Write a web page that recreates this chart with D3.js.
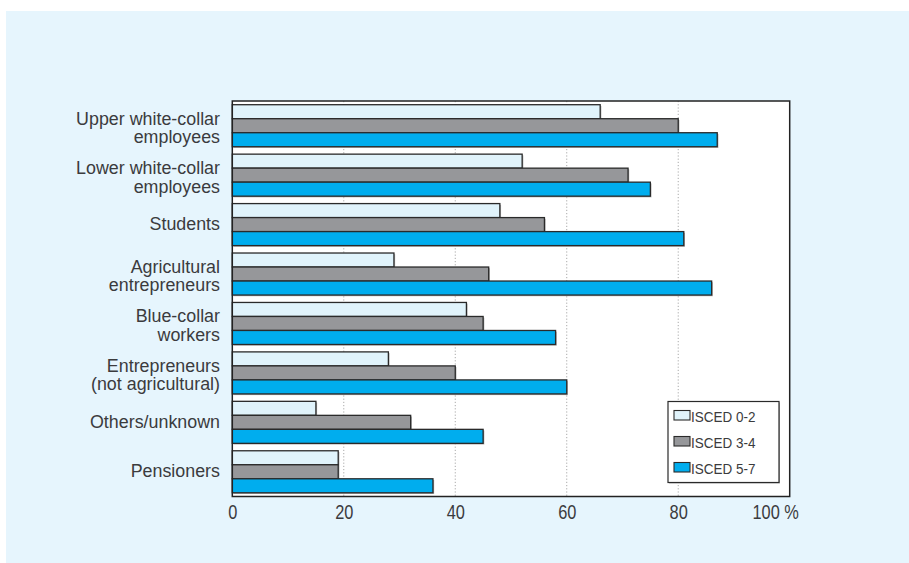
<!DOCTYPE html>
<html>
<head>
<meta charset="utf-8">
<script src="https://cdn.jsdelivr.net/npm/d3@7"></script>
<style>
  html, body { margin: 0; padding: 0; background: #ffffff; }
  svg { display: block; }
  .lbl { font-family: "Liberation Sans", Arial, sans-serif; fill: #3b3b3d; }
</style>
</head>
<body>
<svg id="chart" width="909" height="563"></svg>
<script>
// Share by occupational group and education level (%)
const categories = [
  ["Upper white-collar", "employees"],
  ["Lower white-collar", "employees"],
  ["Students"],
  ["Agricultural", "entrepreneurs"],
  ["Blue-collar", "workers"],
  ["Entrepreneurs", "(not agricultural)"],
  ["Others/unknown"],
  ["Pensioners"]
];
const seriesNames = ["ISCED 0-2", "ISCED 3-4", "ISCED 5-7"];
const isced02 = [66, 52, 48, 29, 42, 28, 15, 19];
const isced34 = [80, 71, 56, 46, 45, 40, 32, 19];
const isced57 = [87, 75, 81, 86, 58, 60, 45, 36];
const xTicks = [0, 20, 40, 60, 80, 100];
const xTickLabels = ["0", "20", "40", "60", "80", "100 %"];
const seriesColors = ["#e0f3fb", "#96979a", "#00adee"];

const values = [isced02, isced34, isced57];
const rows = categories.map((c, i) => ({
  key: c.join(" "),
  lines: c,
  vals: values.map((s, k) => ({ series: k, value: s[i] }))
}));

const svg = d3.select("#chart");

// light blue panel
svg.append("rect").attr("x", 6).attr("y", 11).attr("width", 903).attr("height", 552).attr("fill", "#e6f5fd");

const plot = { left: 232.3, right: 789.7, top: 101, bottom: 496.5 };

const x = d3.scaleLinear().domain([0, 100]).range([plot.left, plot.right]);
const y = d3.scaleBand().domain(rows.map(r => r.key)).range([plot.top, plot.bottom])
  .paddingInner(0.15).paddingOuter(0.075);
const ySub = d3.scaleBand().domain(d3.range(seriesNames.length)).range([0, y.bandwidth()]);

// plot background
svg.append("rect").attr("x", plot.left).attr("y", plot.top)
  .attr("width", plot.right - plot.left).attr("height", plot.bottom - plot.top)
  .attr("fill", "#ffffff");

// dotted gridlines
svg.append("g").selectAll("line").data(xTicks.filter(t => t > 0 && t < 100)).join("line")
  .attr("x1", d => x(d)).attr("x2", d => x(d))
  .attr("y1", plot.top).attr("y2", plot.bottom)
  .attr("stroke", "#a9a9a9").attr("stroke-width", 1).attr("stroke-dasharray", "1.2,2");

// bars with a soft drop shadow
const groups = svg.append("g").selectAll("g").data(rows).join("g")
  .attr("transform", d => `translate(0,${y(d.key)})`);

groups.selectAll("rect.shadow").data(d => d.vals).join("rect")
  .attr("class", "shadow")
  .attr("x", x(0) + 1.2).attr("y", d => ySub(d.series) + 1.2)
  .attr("width", d => x(d.value) - x(0)).attr("height", ySub.bandwidth())
  .attr("fill", "#b4b4b4");

groups.selectAll("rect.bar").data(d => d.vals).join("rect")
  .attr("class", "bar")
  .attr("x", x(0)).attr("y", d => ySub(d.series))
  .attr("width", d => x(d.value) - x(0)).attr("height", ySub.bandwidth())
  .attr("fill", d => seriesColors[d.series])
  .attr("stroke", "#2a2a2a").attr("stroke-width", 1.3);

// plot frame
svg.append("rect").attr("x", plot.left).attr("y", plot.top)
  .attr("width", plot.right - plot.left).attr("height", plot.bottom - plot.top)
  .attr("fill", "none").attr("stroke", "#222222").attr("stroke-width", 1.5);

// x axis labels (condensed lettering)
const tickSx = 0.78;
const xAxis = d3.axisBottom(x).tickValues(xTicks).tickSize(0).tickPadding(0)
  .tickFormat((d, i) => xTickLabels[i]);
const gx = svg.append("g").attr("transform", `translate(0,${plot.bottom})`).call(xAxis);
gx.select(".domain").remove();
gx.selectAll("text").attr("class", "lbl").attr("font-size", 21).attr("dy", null)
  .attr("y", 22.5).attr("fill", "#3b3b3d").style("font-family", null)
  .attr("transform", `scale(${tickSx},1)`);
gx.selectAll(".tick").filter(d => d === 100).select("text")
  .attr("text-anchor", "start").attr("x", -37.7 / tickSx);

// category labels
const lineH = 18.4;
const catSx = 0.966;
const labels = svg.append("g").selectAll("text").data(rows).join("text")
  .attr("class", "lbl").attr("font-size", 18.5).attr("text-anchor", "end")
  .attr("transform", d => {
    const cy = y(d.key) + y.bandwidth() / 2;
    const base = d.lines.length === 1 ? cy + 5.5 : cy - 1;
    return `translate(220,${base}) scale(${catSx},1)`;
  });
labels.selectAll("tspan").data(d => d.lines).join("tspan")
  .attr("x", 0).attr("dy", (d, i) => i === 0 ? 0 : lineH).text(d => d);

// legend
const lg = svg.append("g").attr("transform", "translate(668,401.5)");
lg.append("rect").attr("x", 1).attr("y", 1).attr("width", 111).attr("height", 81).attr("fill", "#b4b4b4");
lg.append("rect").attr("width", 111).attr("height", 81).attr("fill", "#ffffff")
  .attr("stroke", "#2a2a2a").attr("stroke-width", 1.2);
const items = lg.selectAll("g.item").data(seriesNames).join("g").attr("class", "item")
  .attr("transform", (d, i) => `translate(6,${9 + i * 26})`);
items.append("rect").attr("width", 16).attr("height", 9.5)
  .attr("fill", (d, i) => seriesColors[i]).attr("stroke", "#2a2a2a").attr("stroke-width", 1.1);
items.append("text").attr("class", "lbl").attr("font-size", 15.5)
  .attr("transform", "translate(17,11) scale(0.87,1)").text(d => d);
</script>
</body>
</html>
